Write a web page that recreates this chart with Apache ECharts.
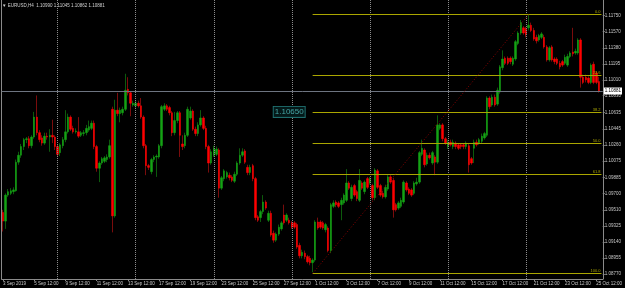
<!DOCTYPE html>
<html>
<head>
<meta charset="utf-8">
<script src="https://cdn.jsdelivr.net/npm/echarts@6/dist/echarts.min.js"></script>
<style>
  html, body { margin: 0; padding: 0; background: #000; }
  #chart { width: 625px; height: 288px; }
</style>
</head>
<body>
<div id="chart"></div>
<script>
// EURUSD H4, 3 Sep 2019 12:00 .. 25 Oct 2019 16:00
const opens = [
  1.0948,1.0938,1.0968,1.0970,1.0972,1.0973,1.1006,1.1014,1.1024,1.1032,1.1033,1.1025,
  1.1035,1.1058,1.1040,1.1034,1.1028,1.1036,1.1035,1.1037,1.1035,1.1024,1.1017,1.1025,
  1.1032,1.1041,1.1058,1.1045,1.1041,1.1041,1.1037,1.1039,1.1040,1.1043,1.1045,1.1051,
  1.1024,1.0999,1.1005,1.1007,1.1009,1.1012,1.1067,1.0944,1.1066,1.1062,1.1063,1.1067,
  1.1090,1.1086,1.1072,1.1071,1.1074,1.1071,1.1058,1.1025,1.1002,1.0995,1.1009,1.1012,
  1.1012,1.1025,1.1067,1.1071,1.1069,1.1063,1.1040,1.1054,1.1063,1.1027,1.1025,1.1037,
  1.1057,1.1065,1.1044,1.1039,1.1049,1.1057,1.1045,1.1024,1.1005,1.1014,1.1015,1.1020,
  1.0976,1.0987,1.0989,1.0991,1.0989,1.0984,1.0992,1.1005,1.1014,1.1019,1.1000,1.0994,
  1.1002,1.0987,1.0943,1.0942,1.0949,1.0960,1.0939,1.0947,1.0924,1.0916,1.0923,1.0929,
  1.0945,1.0939,1.0939,1.0936,1.0936,1.0934,1.0910,1.0898,1.0901,1.0897,1.0895,1.0890,
  1.0893,1.0937,1.0937,1.0936,1.0928,1.0930,1.0904,1.0955,1.0960,1.0959,1.0957,1.0959,
  1.0962,1.0982,1.0964,1.0979,1.0972,1.0962,1.0982,1.0972,1.0987,1.0982,1.0979,1.0965,
  1.0996,1.0979,1.0970,1.0966,1.0975,1.0989,1.0985,1.0957,1.0953,1.0955,1.0960,1.0982,
  1.0975,1.0974,1.0970,1.0981,1.0983,1.1015,1.1020,1.1004,1.1014,1.1005,1.1012,1.1006,
  1.1045,1.1049,1.1033,1.1024,1.1029,1.1024,1.1028,1.1026,1.1026,1.1026,1.1024,1.1025,
  1.1010,1.1022,1.1029,1.1028,1.1030,1.1034,1.1037,1.1080,1.1072,1.1081,1.1073,1.1087,
  1.1115,1.1126,1.1126,1.1126,1.1119,1.1125,1.1143,1.1155,1.1161,1.1160,1.1161,1.1164,
  1.1158,1.1150,1.1147,1.1150,1.1150,1.1139,1.1124,1.1139,1.1125,1.1125,1.1120,1.1122,
  1.1120,1.1118,1.1128,1.1133,1.1132,1.1132,1.1147,1.1104,1.1104,1.1103,1.1098,1.1119,
  1.1109,1.10990
];
const closes = [
  1.0938,1.0968,1.0972,1.0973,1.0974,1.1006,1.1014,1.1024,1.1032,1.1033,1.1025,1.1035,
  1.1058,1.1040,1.1032,1.1028,1.1036,1.1035,1.1037,1.1035,1.1024,1.1015,1.1026,1.1032,
  1.1041,1.1058,1.1044,1.1041,1.1042,1.1036,1.1040,1.1040,1.1045,1.1047,1.1051,1.1024,
  1.0999,1.1005,1.1010,1.1011,1.1012,1.1025,1.0944,1.1066,1.1062,1.1066,1.1067,1.1089,
  1.1086,1.1074,1.1074,1.1074,1.1071,1.1058,1.1025,1.1002,1.1000,1.1009,1.1012,1.1013,
  1.1025,1.1070,1.1071,1.1067,1.1063,1.1040,1.1054,1.1063,1.1037,1.1024,1.1037,1.1067,
  1.1065,1.1044,1.1039,1.1049,1.1057,1.1045,1.1024,1.1005,1.1018,1.1022,1.1021,1.0976,
  1.0988,1.0996,1.0994,1.0988,1.0985,1.0992,1.1005,1.1014,1.1018,1.1006,1.0994,1.1000,
  1.0987,1.0942,1.0939,1.0949,1.0960,1.0953,1.0947,1.0922,1.0916,1.0923,1.0931,1.0936,
  1.0936,1.0945,1.0936,1.0931,1.0931,1.0908,1.0898,1.0902,1.0897,1.0891,1.0890,1.0893,
  1.0937,1.0930,1.0931,1.0930,1.0934,1.0904,1.0957,1.0959,1.0957,1.0955,1.0962,1.0968,
  1.0982,1.0976,1.0977,1.0968,1.0964,1.0985,1.0976,1.0983,1.0977,1.0987,1.0965,1.0997,
  1.0977,1.0968,1.0966,1.0977,1.0989,1.0983,1.0951,1.0951,1.0959,1.0962,1.0983,1.0974,
  1.0970,1.0968,1.0982,1.0983,1.1017,1.1022,1.1003,1.1014,1.1011,1.1017,1.1006,1.1049,
  1.1049,1.1033,1.1028,1.1029,1.1026,1.1029,1.1024,1.1022,1.1024,1.1024,1.1028,1.1003,
  1.1005,1.1029,1.1026,1.1032,1.1036,1.1039,1.1080,1.1070,1.1081,1.1072,1.1089,1.1116,
  1.1125,1.1120,1.1120,1.1122,1.1126,1.1145,1.1155,1.1167,1.1155,1.1153,1.1164,1.1158,
  1.1148,1.1146,1.1152,1.1154,1.1139,1.1124,1.1138,1.1124,1.1122,1.1120,1.1116,1.1118,
  1.1127,1.1128,1.1132,1.1131,1.1134,1.1147,1.1104,1.1098,1.1101,1.1098,1.1118,1.1098,
  1.1098,1.10881
];
const highs = [
  1.0951,1.0970,1.0975,1.0976,1.0977,1.1009,1.1018,1.1027,1.1034,1.1035,1.1036,1.1037,
  1.1064,1.1083,1.1043,1.1037,1.1040,1.1040,1.1044,1.1055,1.1037,1.1026,1.1028,1.1035,
  1.1066,1.1062,1.1060,1.1048,1.1045,1.1058,1.1042,1.1043,1.1049,1.1054,1.1054,1.1054,
  1.1026,1.1007,1.1012,1.1013,1.1015,1.1032,1.1070,1.1078,1.1086,1.1069,1.1070,1.1108,
  1.1104,1.1088,1.1077,1.1077,1.1077,1.1080,1.1060,1.1027,1.1004,1.1011,1.1014,1.1015,
  1.1027,1.1072,1.1074,1.1073,1.1071,1.1065,1.1064,1.1065,1.1065,1.1037,1.1040,1.1070,
  1.1070,1.1067,1.1047,1.1052,1.1066,1.1059,1.1048,1.1026,1.1021,1.1025,1.1024,1.1022,
  1.0990,1.0998,1.0996,1.0994,1.0991,1.0995,1.1007,1.1022,1.1022,1.1021,1.1003,1.1003,
  1.1004,1.0989,1.0945,1.0951,1.0968,1.0962,1.0950,1.0950,1.0927,1.0925,1.0934,1.0938,
  1.0957,1.0947,1.0942,1.0938,1.0938,1.0936,1.0913,1.0905,1.0904,1.0899,1.0898,1.0895,
  1.0939,1.0942,1.0939,1.0938,1.0936,1.0932,1.0959,1.0962,1.0962,1.0961,1.0965,1.0970,
  1.0998,1.0984,1.0980,1.0981,1.0974,1.0998,1.0984,1.0985,1.0989,1.0989,1.0981,1.0999,
  1.0998,1.0981,1.0973,1.0980,1.0991,1.0991,1.0988,1.0959,1.0961,1.0965,1.0985,1.0984,
  1.0977,1.0976,1.0984,1.0988,1.1019,1.1032,1.1022,1.1017,1.1017,1.1019,1.1014,1.1060,
  1.1051,1.1051,1.1035,1.1032,1.1032,1.1032,1.1030,1.1028,1.1028,1.1028,1.1030,1.1027,
  1.1012,1.1032,1.1032,1.1034,1.1039,1.1041,1.1082,1.1082,1.1084,1.1084,1.1092,1.1118,
  1.1135,1.1128,1.1128,1.1128,1.1128,1.1147,1.1157,1.1170,1.1163,1.1162,1.1177,1.1167,
  1.1161,1.1153,1.1154,1.1156,1.1153,1.1141,1.1140,1.1141,1.1127,1.1127,1.1123,1.1124,
  1.1130,1.1131,1.1134,1.1161,1.1137,1.1149,1.1149,1.1107,1.1107,1.1105,1.1120,1.1122,
  1.1111,1.11045
];
const lows = [
  1.0926,1.0929,1.0966,1.0968,1.0969,1.0972,1.1003,1.1011,1.1020,1.1028,1.1022,1.1022,
  1.1033,1.1037,1.1029,1.1025,1.1026,1.1032,1.1018,1.1028,1.1020,1.1012,1.1013,1.1022,
  1.1029,1.1039,1.1042,1.1039,1.1039,1.1034,1.1035,1.1036,1.1037,1.1041,1.1043,1.1021,
  1.0995,1.0983,1.1003,1.1005,1.1006,1.1010,1.0925,1.0942,1.1059,1.1052,1.1060,1.1065,
  1.1083,1.1059,1.1070,1.1069,1.1069,1.1056,1.1022,1.0991,1.0997,1.0992,1.1006,1.0989,
  1.1010,1.1022,1.1065,1.1065,1.1060,1.1036,1.1037,1.1051,1.1012,1.1020,1.1022,1.1035,
  1.1055,1.1042,1.1036,1.1036,1.1047,1.1043,1.1021,1.0994,1.1003,1.1012,1.1013,1.0965,
  1.0974,1.0984,1.0987,1.0985,1.0983,1.0982,1.0990,1.1003,1.1012,1.1004,1.0991,1.0991,
  1.0984,1.0939,1.0937,1.0937,1.0946,1.0951,1.0937,1.0920,1.0913,1.0914,1.0921,1.0927,
  1.0934,1.0937,1.0934,1.0929,1.0929,1.0906,1.0895,1.0895,1.0894,1.0889,1.0887,1.0879,
  1.0891,1.0928,1.0929,1.0928,1.0925,1.0902,1.0901,1.0953,1.0954,1.0953,1.0939,1.0957,
  1.0960,1.0974,1.0961,1.0966,1.0961,1.0960,1.0974,1.0969,1.0975,1.0980,1.0962,1.0962,
  1.0975,1.0966,1.0964,1.0964,1.0973,1.0981,1.0942,1.0949,1.0951,1.0953,1.0958,1.0972,
  1.0968,1.0966,1.0968,1.0979,1.0981,1.1013,1.1000,1.1002,1.1009,1.1003,1.0991,1.1004,
  1.1043,1.1030,1.1026,1.1021,1.1024,1.1021,1.1021,1.1020,1.1021,1.1021,1.1021,1.0994,
  1.1003,1.1005,1.1024,1.1026,1.1028,1.1032,1.1035,1.1067,1.1070,1.1070,1.1071,1.1085,
  1.1112,1.1118,1.1118,1.1119,1.1117,1.1123,1.1141,1.1153,1.1153,1.1150,1.1158,1.1156,
  1.1146,1.1143,1.1145,1.1148,1.1137,1.1122,1.1122,1.1122,1.1119,1.1118,1.1113,1.1116,
  1.1118,1.1116,1.1126,1.1128,1.1130,1.1130,1.1092,1.1096,1.1098,1.1096,1.1096,1.1096,
  1.1096,1.10862
];

// one label every 12 bars (2 days)
const tickLabels = [
  '3 Sep 2019', '5 Sep 12:00', '9 Sep 12:00', '11 Sep 12:00', '13 Sep 12:00',
  '17 Sep 12:00', '19 Sep 12:00', '23 Sep 12:00', '25 Sep 12:00', '27 Sep 12:00',
  '1 Oct 12:00', '3 Oct 12:00', '7 Oct 12:00', '9 Oct 12:00', '11 Oct 12:00',
  '15 Oct 12:00', '17 Oct 12:00', '21 Oct 12:00', '23 Oct 12:00', '25 Oct 12:00'
];
const priceTicks = [
  1.08770, 1.08955, 1.09140, 1.09325, 1.09510, 1.09700, 1.09885, 1.10075, 1.10260,
  1.10445, 1.10635, 1.10830, 1.11010, 1.11195, 1.11380, 1.11570, 1.11750
];
const weekStarts = [21, 51, 81, 111, 141, 171, 201];

// fibonacci retracement drawn from the 1 Oct low to the 21 Oct high
const fibNames = ['0.0', '23.6', '38.2', '50.0', '61.8', '100.0'];
const fibPrices = [1.11764, 1.11060, 1.10633, 1.10275, 1.09918, 1.08776];
const fibLowBar = 119;
const fibHighBar = 202;

const lastPrice = 1.10881;
const labelBar = 110;
const labelPrice = 1.1064;
const labelText = '1.10650';

const nBars = opens.length;
const categories = Array.from({ length: nBars + 1 }, (_, i) => i);

// wick series (full range) and body series (open/close only)
const wickData = opens.map((o, i) => [o, closes[i], lows[i], highs[i]]);
const bodyData = opens.map((o, i) => [o, closes[i], Math.min(o, closes[i]), Math.max(o, closes[i])]);

const axisText = '#c8c8c8';
const frameColor = '#8a8a8a';
const fibColor = '#aaa600';

const chart = echarts.init(document.getElementById('chart'));
const everyTwoDays = idx => idx % 12 === 0 && idx < nBars;

chart.setOption({
  animation: false,
  backgroundColor: '#000',
  grid: { left: 0, right: 21, top: 0, bottom: 9 },
  xAxis: {
    type: 'category',
    data: categories,
    boundaryGap: true,
    axisLine: { lineStyle: { color: frameColor } },
    axisTick: { show: true, interval: everyTwoDays, length: 2, alignWithLabel: true, lineStyle: { color: frameColor } },
    axisLabel: {
      interval: everyTwoDays,
      formatter: (v, idx) => tickLabels[idx / 12],
      align: 'left',
      color: axisText,
      fontSize: 4.5,
      fontFamily: 'Liberation Sans',
      margin: 2
    },
    splitLine: { show: false }
  },
  yAxis: [
    {
      type: 'value',
      position: 'right',
      min: 1.08712,
      max: 1.11931,
      axisLine: { show: true, lineStyle: { color: frameColor } },
      axisTick: { show: true, customValues: priceTicks, length: 2, lineStyle: { color: frameColor } },
      axisLabel: {
        customValues: priceTicks,
        formatter: v => v.toFixed(5),
        color: axisText,
        fontSize: 4.5,
        fontFamily: 'Liberation Sans',
        margin: 2
      },
      splitLine: { show: false }
    },
    {
      // left frame line only
      type: 'value',
      position: 'left',
      min: 1.08712,
      max: 1.11931,
      axisLine: { show: true, lineStyle: { color: frameColor } },
      axisTick: { show: false },
      axisLabel: { show: false },
      splitLine: { show: false }
    }
  ],
  graphic: [
    {
      type: 'text', left: 2, top: 3,
      style: { text: '\u25BC EURUSD,H4  1.10990 1.11045 1.10862 1.10881', fill: '#d0d0d0', font: '4.5px "Liberation Sans"' }
    }
  ],
  series: [
    {
      name: 'wicks',
      type: 'candlestick',
      data: wickData,
      barWidth: 1,
      silent: true,
      itemStyle: { color: '#0c5a0c', color0: '#7a0c0c', borderColor: '#0c5a0c', borderColor0: '#7a0c0c', borderWidth: 1 },
      markLine: {
        silent: true,
        precision: 5,
        symbol: ['none', 'none'],
        data: [
          ...weekStarts.map(i => ({ xAxis: i, lineStyle: { color: '#8c8c8c', type: [1, 1], width: 1 }, label: { show: false } })),
          {
            yAxis: lastPrice,
            lineStyle: { color: '#6d7480', type: 'solid', width: 1 },
            label: {
              show: true, position: 'end', distance: 1,
              formatter: lastPrice.toFixed(5),
              backgroundColor: '#fff', color: '#000', fontSize: 4.5, fontFamily: 'Liberation Sans', padding: [1, 1]
            }
          }
        ]
      }
    },
    {
      name: 'bodies',
      type: 'candlestick',
      data: bodyData,
      barWidth: 2,
      silent: true,
      itemStyle: { color: '#14a314', color0: '#ff0000', borderColor: '#14a314', borderColor0: '#ff0000', borderWidth: 0.5 },
      markLine: {
        silent: true,
        precision: 5,
        symbol: ['none', 'none'],
        data: [
          ...fibPrices.map((p, k) => [
            {
              coord: [fibLowBar, p],
              lineStyle: { color: fibColor, type: 'solid', width: 1 },
              label: { show: true, position: 'insideEndTop', formatter: fibNames[k], color: fibColor, fontSize: 4, fontFamily: 'Liberation Sans', distance: 1 }
            },
            { coord: [nBars, p] }
          ]),
          [
            { coord: [fibLowBar, fibPrices[5]], lineStyle: { color: '#8b0000', type: [1, 2], width: 1 }, label: { show: false } },
            { coord: [fibHighBar, fibPrices[0]] }
          ]
        ]
      },
      markPoint: {
        silent: true,
        symbolSize: 0,
        data: [{
          coord: [labelBar, labelPrice],
          label: {
            show: true, position: 'inside', formatter: labelText,
            color: '#45a5a5', fontSize: 8, fontFamily: 'Liberation Sans',
            backgroundColor: '#041818', borderColor: '#1f6e6e', borderWidth: 1, padding: [1, 1]
          }
        }]
      }
    }
  ]
});
</script>
</body>
</html>
